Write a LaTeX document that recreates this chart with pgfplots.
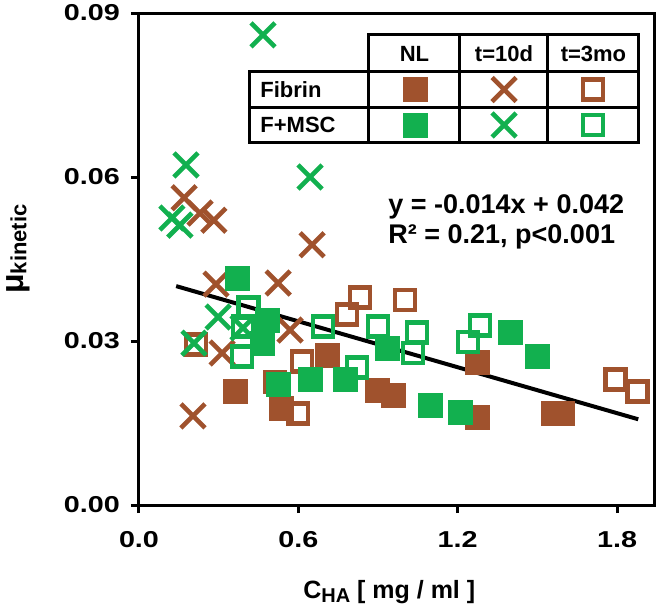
\documentclass[border=0pt]{standalone}
\usepackage{fontspec}
\setmainfont{Liberation Sans}
\newfontfamily\tickfont{Liberation Sans}[FakeStretch=1.25]
\usepackage{pgfplots}
\pgfplotsset{compat=1.18}

\definecolor{fib}{HTML}{A0522D}
\definecolor{msc}{HTML}{12B04F}

\pgfplotsset{
  nl/.style={only marks, color=#1, mark=square*, mark size=6pt,
    mark options={solid, rounded corners=1.5pt}},
  d10/.style={only marks, color=#1, mark=x, mark size=8.5pt,
    mark options={solid, line width=2.3pt}},
  mo3/.style={only marks, color=#1, mark=square, mark size=5pt,
    mark options={solid, line width=2.4pt}},
  lg/.style={legend image code/.code={%
    \path[draw=none, fill=none] (-8pt,-8pt) rectangle (8pt,8pt);
    \draw plot coordinates {(0pt,0pt)};}},
}

\begin{document}
\begin{tikzpicture}
\begin{axis}[
  scale only axis, width=258pt, height=246pt,
  xmin=0, xmax=1.943, ymin=0, ymax=0.09,
  xtick={0,0.6,1.2,1.8}, xticklabels={0.0,0.6,1.2,1.8},
  ytick={0,0.03,0.06,0.09}, yticklabels={0.00,0.03,0.06,0.09},
  scaled x ticks=false, scaled y ticks=false,
  tick align=outside, tick pos=left, major tick length=4pt,
  every tick/.append style={black, line width=1.5pt},
  axis line style={line width=1.5pt},
  ticklabel style={font=\tickfont\bfseries\fontsize{11.5}{13}\selectfont},
  yticklabel style={xshift=-2pt},
  xticklabel style={yshift=-5.5pt},
  xlabel={C\raisebox{-0.3ex}{\fontsize{10}{12}\selectfont HA} [ mg / ml ]},
  xlabel style={font=\bfseries\fontsize{12.5}{14}\selectfont,
    at={(axis description cs:0.485,-0.19)}, anchor=base},
  ylabel={μ\raisebox{-0.1em}{\fontsize{11}{13}\selectfont kinetic}},
  ylabel style={font=\bfseries\fontsize{16}{18}\selectfont,
    at={(axis description cs:-0.2345,0.52)}, anchor=center},
  legend columns=3,
  legend style={at={(axis description cs:0.7094,0.80845)}, anchor=center,
    draw=none, fill=none, inner sep=0pt, column sep=0pt, row sep=1.74pt,
    nodes={inner sep=0pt, text depth=0pt},
    /tikz/every even column/.append style={column sep=27.5pt}},
]
% Fibrin, NL
\addplot[nl=fib, forget plot] coordinates {
  (0.362,0.0207) (0.535,0.0177) (0.708,0.0274) (0.896,0.0210) (0.957,0.0201)
  (1.273,0.0260) (1.273,0.0161) (1.559,0.0168) (1.593,0.0168)};
% Fibrin, t=10d
\addplot[d10=fib, forget plot] coordinates {
  (0.170,0.0562) (0.230,0.0534) (0.282,0.0521) (0.290,0.0404) (0.524,0.0406)
  (0.652,0.0476) (0.569,0.0320) (0.313,0.0278) (0.203,0.0163)};
% Fibrin, t=3mo
\addplot[mo3=fib, forget plot] coordinates {
  (0.215,0.0293) (0.512,0.0225) (0.599,0.0168) (0.614,0.0262) (0.783,0.0348)
  (0.832,0.0380) (1.002,0.0375) (1.793,0.0229) (1.876,0.0207)};
% F+MSC, t=3mo
\addplot[mo3=msc, forget plot] coordinates {
  (0.411,0.0362) (0.392,0.0326) (0.388,0.0271) (0.693,0.0326) (0.821,0.0252)
  (0.900,0.0326) (1.047,0.0316) (1.032,0.0278) (1.239,0.0298) (1.284,0.0329)};
% F+MSC, NL
\addplot[nl=msc, forget plot] coordinates {
  (0.369,0.0415) (0.482,0.0338) (0.463,0.0296) (0.524,0.0220) (0.644,0.0229)
  (0.776,0.0229) (0.934,0.0287) (1.096,0.0183) (1.209,0.0170) (1.397,0.0315)
  (1.499,0.0271)};
% F+MSC, t=10d
\addplot[d10=msc, forget plot] coordinates {
  (0.467,0.0860) (0.177,0.0622) (0.124,0.0525) (0.154,0.0512) (0.644,0.0600)
  (0.298,0.0344) (0.207,0.0296) (0.392,0.0324)};
% fit y = -0.014x + 0.042
\addplot[black, line width=2pt, forget plot] coordinates {(0.14,0.04004) (1.88,0.01568)};

% legend symbols, laid out as the table cells
\addlegendimage{nl=fib, lg}\addlegendentry{\mbox{}}
\addlegendimage{d10=fib, lg}\addlegendentry{\mbox{}}
\addlegendimage{mo3=fib, lg}\addlegendentry{\mbox{}}
\addlegendimage{nl=msc, lg}\addlegendentry{\mbox{}}
\addlegendimage{d10=msc, lg}\addlegendentry{\mbox{}}
\addlegendimage{mo3=msc, lg}\addlegendentry{\mbox{}}

% table grid
\draw[line width=1.5pt]
  (axis description cs:0.2151,0.7358) rectangle (axis description cs:0.9690,0.8801)
  (axis description cs:0.4457,0.8801) rectangle (axis description cs:0.9690,0.9553)
  (axis description cs:0.2151,0.8089) -- (axis description cs:0.9690,0.8089)
  (axis description cs:0.4457,0.7358) -- (axis description cs:0.4457,0.8801)
  (axis description cs:0.6221,0.7358) -- (axis description cs:0.6221,0.9553)
  (axis description cs:0.7926,0.7358) -- (axis description cs:0.7926,0.9553);
\begin{scope}[font=\bfseries\fontsize{11}{13}\selectfont]
\node at (axis description cs:0.5339,0.9177) {NL};
\node at (axis description cs:0.7074,0.9177) {t=10d};
\node at (axis description cs:0.8808,0.9177) {t=3mo};
\node[anchor=west, inner sep=0pt] at (axis description cs:0.2345,0.8445) {Fibrin};
\node[anchor=west, inner sep=0pt] at (axis description cs:0.2345,0.7724) {F+MSC};
\end{scope}
\node[anchor=west, inner sep=0pt, align=left,
  font=\bfseries\fontsize{13.5}{15}\selectfont]
  at (axis description cs:0.4826,0.5745)
  {y = -0.014x + 0.042\\R² = 0.21, p<0.001};
\end{axis}
\pgfresetboundingbox
\path (current axis.south west) ++(-69.5pt,-53pt) rectangle ++(330pt,305.5pt);
\end{tikzpicture}
\end{document}
